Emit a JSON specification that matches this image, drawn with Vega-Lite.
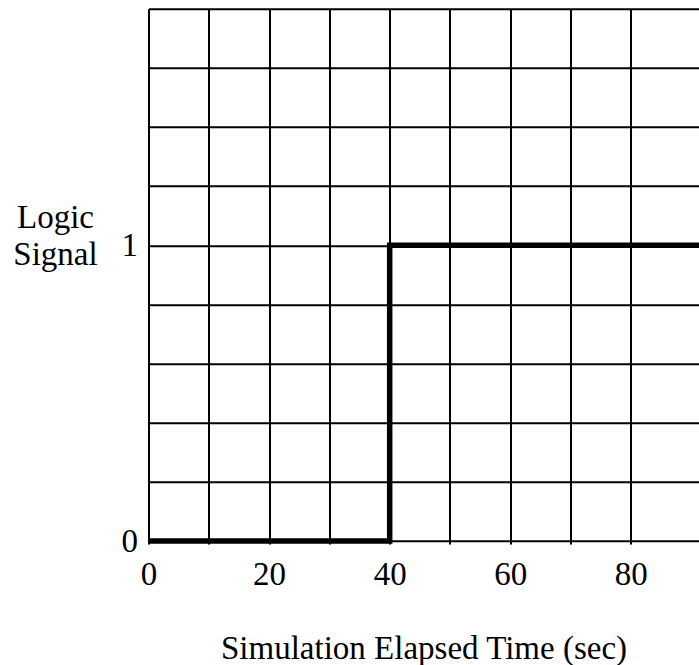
{
  "$schema": "https://vega.github.io/schema/vega-lite/v6.json",
  "autosize": "none",
  "padding": {"left": 148.5, "top": 8.8, "right": 0, "bottom": 124},
  "width": 550.5,
  "height": 532.2,
  "background": "white",
  "config": {
    "view": {"stroke": null},
    "font": "Liberation Serif"
  },
  "data": {
    "values": [
      {"time": 0, "signal": 0},
      {"time": 40, "signal": 1},
      {"time": 100, "signal": 1}
    ]
  },
  "mark": {"type": "line", "interpolate": "step-after", "color": "black", "strokeWidth": 5.5, "clip": false},
  "encoding": {
    "x": {
      "field": "time",
      "type": "quantitative",
      "scale": {"domain": [0, 91.3], "nice": false, "zero": false},
      "axis": {
        "values": [0, 10, 20, 30, 40, 50, 60, 70, 80],
        "labelExpr": "datum.value % 20 == 0 ? datum.label : ''",
        "grid": true,
        "gridColor": "black",
        "gridWidth": 2,
        "gridOpacity": 1,
        "domain": false,
        "ticks": true,
        "tickSize": 3,
        "tickWidth": 2,
        "tickColor": "black",
        "labelFont": "Liberation Serif",
        "labelFontSize": 33,
        "labelColor": "black",
        "labelPadding": 14,
        "labelDx": 4,
        "labelFlush": false,
        "labelOverlap": false,
        "title": "Simulation Elapsed Time (sec)",
        "titleFont": "Liberation Serif",
        "titleFontSize": 33,
        "titleFontWeight": "normal",
        "titleColor": "black",
        "titleBaseline": "alphabetic",
        "titleY": 117,
        "titleX": 275
      }
    },
    "y": {
      "field": "signal",
      "type": "quantitative",
      "scale": {"domain": [0, 1.8], "nice": false},
      "axis": {
        "values": [0, 0.2, 0.4, 0.6, 0.8, 1, 1.2, 1.4, 1.6, 1.8],
        "labelExpr": "datum.value == 0 ? '0' : (datum.value == 1 ? '1' : '')",
        "grid": true,
        "gridColor": "black",
        "gridWidth": 2,
        "gridOpacity": 1,
        "domain": false,
        "ticks": false,
        "labelFont": "Liberation Serif",
        "labelFontSize": 33,
        "labelColor": "black",
        "labelPadding": 11,
        "labelBaseline": "middle",
        "labelFlush": false,
        "labelOverlap": false,
        "title": ["Logic", "Signal"],
        "titleFont": "Liberation Serif",
        "titleFontSize": 33,
        "titleFontWeight": "normal",
        "titleColor": "black",
        "titleAngle": 0,
        "titleAlign": "center",
        "titleBaseline": "alphabetic",
        "titleLineHeight": 37,
        "titleX": -93.5,
        "titleY": 219
      }
    }
  }
}
